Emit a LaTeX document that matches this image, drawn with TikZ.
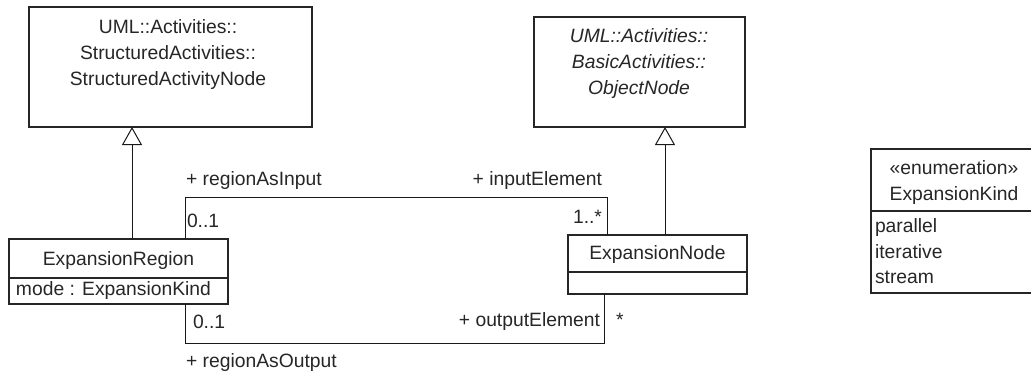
\documentclass[tikz,border=0pt]{standalone}
\usepackage{fontspec}
\setmainfont{Liberation Sans}
\usetikzlibrary{arrows.meta}
\begin{document}
\begin{tikzpicture}[x=1pt,y=-1pt,
  box/.style={draw=black!85, line width=1.2pt, inner sep=0pt, outer sep=0pt, anchor=north west},
  sep/.style={draw=black!85, line width=1.2pt},
  txt/.style={inner sep=0pt, outer sep=0pt, font=\fontsize{19.3}{26}\selectfont, text=black!85},
  itxt/.style={txt, font=\fontsize{19.3}{26}\selectfont\itshape},
  ctxt/.style={txt, anchor=base},
  ltxt/.style={txt, anchor=base west},
  rtxt/.style={txt, anchor=base east},
  conn/.style={draw=black!90, line width=1pt},
  gen/.style={conn, -{Triangle[open, length=18pt, width=20pt, line width=1pt]}}]
\useasboundingbox (0,0) rectangle (1031,373);
\clip (0,0) rectangle (1031,373);

% StructuredActivityNode
\node[box, minimum width=283pt, minimum height=120pt] (san) at (29,7) {};
\node[ctxt] (san1) at (168,33) {UML::Activities::};
\node[ctxt] (san2) at (168,59) {StructuredActivities::};
\node[ctxt] (san3) at (168,85) {StructuredActivityNode};

% ObjectNode
\node[box, minimum width=211pt, minimum height=110pt] (obn) at (534,17) {};
\node[itxt, anchor=base] (obn1) at (639,42) {UML::Activities::};
\node[itxt, anchor=base] (obn2) at (639,68) {BasicActivities::};
\node[itxt, anchor=base] (obn3) at (639,94) {ObjectNode};

% ExpansionRegion
\node[box, minimum width=219pt, minimum height=65pt] (er) at (9,239) {};
\coordinate (ersep) at (9,278);
\draw[sep] (ersep) -- (ersep -| er.east);
\node[ctxt] (ername) at (118.5,265) {ExpansionRegion};
\node[ltxt] (ermode) at (16,295) {mode : ExpansionKind};

% ExpansionNode
\node[box, minimum width=179pt, minimum height=59pt] (en) at (568,235) {};
\coordinate (ensep) at (568,272);
\draw[sep] (ensep) -- (ensep -| en.east);
\node[ctxt] (enname) at (657.5,259) {ExpansionNode};

% ExpansionKind enumeration (cut off by the right edge)
\node[box, draw=none, minimum width=200pt, minimum height=144pt] (ek) at (871,149) {};
\draw[sep] (ek.north east) -- (ek.north west) -- (ek.south west) -- (ek.south east);
\coordinate (eksep) at (871,211);
\draw[sep] (eksep) -- (eksep -| ek.east);
\node[ctxt] (ekst) at (954,174) {«enumeration»};
\node[ctxt] (ekname) at (954,200) {ExpansionKind};
\node[ltxt] (ek1) at (875,232) {parallel};
\node[ltxt] (ek2) at (875,258) {iterative};
\node[ltxt] (ek3) at (875,283) {stream};

% generalizations
\coordinate (g1) at (132,127);
\draw[gen] (er.north -| g1) -- (g1);
\coordinate (g2) at (665,127);
\draw[gen] (en.north -| g2) -- (g2);

% input association
\coordinate (ia1) at (185,197);
\coordinate (ia2) at (607,197);
\draw[conn] (er.north -| ia1) -- (ia1) -- (ia2) -- (en.north -| ia2);

% output association
\coordinate (oa1) at (185,343);
\coordinate (oa2) at (604,343);
\draw[conn] (er.south -| oa1) -- (oa1) -- (oa2) -- (en.south -| oa2);

% association end labels
\node[ltxt] (rai) at (186,185) {+ regionAsInput};
\node[rtxt] (ie) at (602,185) {+ inputElement};
\node[ltxt] (m1) at (187,227) {0..1};
\node[rtxt] (m2) at (602,223) {1..*};
\node[ltxt] (m3) at (193,328) {0..1};
\node[rtxt] (oe) at (600,326) {+ outputElement};
\node[ltxt] (m4) at (616,326) {*};
\node[ltxt] (rao) at (186,367) {+ regionAsOutput};
\end{tikzpicture}
\end{document}
